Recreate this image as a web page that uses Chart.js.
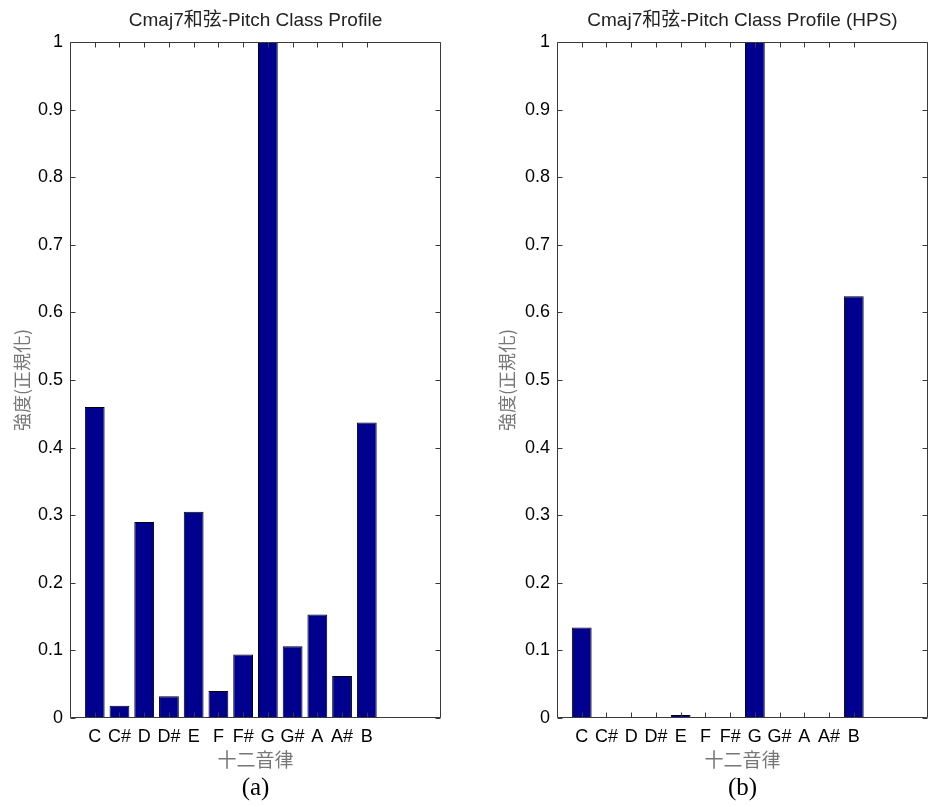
<!DOCTYPE html>
<html>
<head>
<meta charset="utf-8">
<script src="https://cdn.jsdelivr.net/npm/chart.js@4"></script>
<style>
  html, body { margin: 0; padding: 0; background: #fff; }
  canvas { position: absolute; top: 0; }
  #pcpChart { left: 0; }
  #hpsChart { left: 487px; }
</style>
</head>
<body>
<canvas id="pcpChart" width="487" height="807"></canvas>
<canvas id="hpsChart" width="444" height="807"></canvas>
<script>
// pitch classes on the x axis (placed at 1..12 on a 0..15 axis)
var NOTES = ['C', 'C#', 'D', 'D#', 'E', 'F', 'F#', 'G', 'G#', 'A', 'A#', 'B'];
// normalised pitch class profile
var PCP = [0.46, 0.018, 0.29, 0.032, 0.305, 0.04, 0.094, 1.0, 0.106, 0.153, 0.062, 0.437];
// same profile after harmonic product spectrum
var PCP_HPS = [0.134, 0.0008, 0.0015, 0.0006, 0.0045, 0.0008, 0.0006, 1.0, 0.001, 0.0008, 0.0006, 0.624];
var Y_TICKS = [0, 0.1, 0.2, 0.3, 0.4, 0.5, 0.6, 0.7, 0.8, 0.9, 1];

var LATIN = '"Liberation Sans", Arial, "Noto Sans CJK TC", sans-serif';
var CJK = '"Noto Sans CJK TC", "Noto Sans CJK SC", sans-serif';

// matlab-style box with tick marks pointing inwards
var insideTicks = {
    id: 'insideTicks',
    afterDatasetsDraw: function(chart) {
        var ctx = chart.ctx;
        var a = chart.chartArea;
        var x = chart.scales.x, y = chart.scales.y;
        var L = Math.round(a.left) + 0.5, R = Math.round(a.right) - 0.5;
        var T = Math.round(a.top) + 0.5, B = Math.round(a.bottom) - 0.5;
        var len = 5;
        ctx.save();
        ctx.strokeStyle = '#3a3a3a';
        ctx.lineWidth = 1;
        ctx.beginPath();
        ctx.rect(L, T, R - L, B - T);
        y.ticks.forEach(function(t) {
            var py = Math.round(y.getPixelForValue(t.value)) + 0.5;
            ctx.moveTo(L, py); ctx.lineTo(L + len, py);
            ctx.moveTo(R, py); ctx.lineTo(R - len, py);
        });
        NOTES.forEach(function(n, i) {
            var px = Math.round(x.getPixelForValue(i + 1)) + 0.5;
            ctx.moveTo(px, B); ctx.lineTo(px, B - len);
            ctx.moveTo(px, T); ctx.lineTo(px, T + len);
        });
        ctx.stroke();
        ctx.restore();
    }
};

function makeChart(id, title, caption, values, padRight, yTitlePad) {
    var points = values.map(function(v, i) { return { x: i + 1, y: v }; });
    return new Chart(document.getElementById(id), {
        type: 'bar',
        data: {
            datasets: [{
                data: points,
                backgroundColor: '#00008f',
                borderColor: '#000000',
                borderWidth: 1,
                barPercentage: 0.8,
                categoryPercentage: 1.0
            }]
        },
        options: {
            responsive: false,
            animation: false,
            layout: { padding: { left: 0, right: padRight, top: 0, bottom: 0 } },
            scales: {
                x: {
                    type: 'linear',
                    min: 0,
                    max: 15,
                    offset: false,
                    grid: { display: false, drawTicks: false, offset: false },
                    border: { display: false },
                    afterBuildTicks: function(s) {
                        s.ticks = NOTES.map(function(n, i) { return { value: i + 1 }; });
                    },
                    afterFit: function(s) { s.height = 55; },
                    ticks: {
                        autoSkip: false,
                        maxRotation: 0,
                        padding: 8,
                        color: '#000',
                        font: { family: LATIN, size: 18 },
                        callback: function(v) { return NOTES[v - 1] || ''; }
                    },
                    title: {
                        display: true,
                        text: '十二音律',
                        color: '#777',
                        font: { family: CJK, size: 19 },
                        padding: { top: 0, bottom: 1.6 }
                    }
                },
                y: {
                    min: 0,
                    max: 1,
                    grid: { display: false, drawTicks: false },
                    border: { display: false },
                    afterBuildTicks: function(s) {
                        s.ticks = Y_TICKS.map(function(v) { return { value: v }; });
                    },
                    afterFit: function(s) { s.width = 70; },
                    ticks: {
                        padding: 7,
                        color: '#000',
                        font: { family: LATIN, size: 18 },
                        callback: function(v) {
                            return (v === 0 || v === 1) ? String(v) : v.toFixed(1);
                        }
                    },
                    title: {
                        display: true,
                        text: '強度(正規化)',
                        color: '#777',
                        font: { family: CJK, size: 18 },
                        padding: { top: yTitlePad, bottom: 0 }
                    }
                }
            },
            plugins: {
                legend: { display: false },
                tooltip: { enabled: false },
                title: {
                    display: true,
                    text: title,
                    fullSize: false,
                    color: '#222',
                    font: { family: LATIN, size: 19, weight: 'normal' },
                    padding: { top: 9.6, bottom: 9.6 }
                },
                subtitle: {
                    display: true,
                    position: 'bottom',
                    text: caption,
                    fullSize: false,
                    color: '#000',
                    font: { family: '"Liberation Serif", "Times New Roman", serif', size: 25 },
                    padding: { top: 0, bottom: 4 }
                }
            }
        },
        plugins: [insideTicks]
    });
}

document.addEventListener('DOMContentLoaded', function() {
    makeChart('pcpChart', 'Cmaj7和弦-Pitch Class Profile', '(a)', PCP, 46, 11.2);
    makeChart('hpsChart', 'Cmaj7和弦-Pitch Class Profile (HPS)', '(b)', PCP_HPS, 3, 9.2);
});
</script>
</body>
</html>
